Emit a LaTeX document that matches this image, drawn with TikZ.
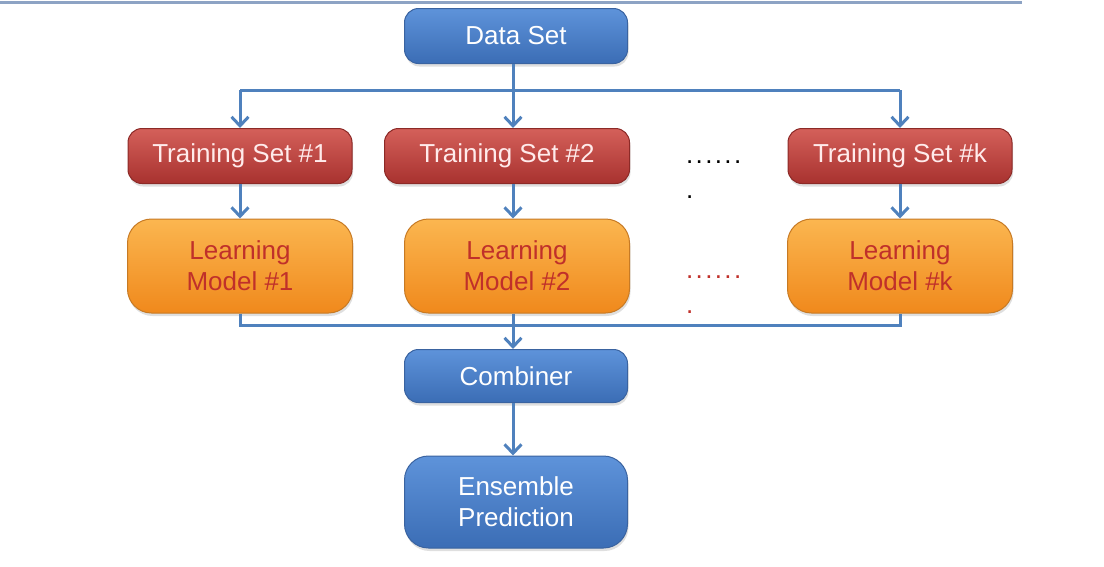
\documentclass[tikz,border=0pt]{standalone}
\usepackage{fontspec}
\setmainfont{Liberation Sans}
\newfontfamily\gapfont[LetterSpace=9]{Liberation Sans}
\usetikzlibrary{arrows.meta,shadows}
\definecolor{linkblue}{HTML}{4F81BD}
\definecolor{rulegrey}{HTML}{8DA3C4}
\definecolor{bluetop}{HTML}{5E93DA}
\definecolor{bluebot}{HTML}{3B6DB5}
\definecolor{blueedge}{HTML}{3A63A0}
\definecolor{redtop}{HTML}{D4605A}
\definecolor{redbot}{HTML}{A8322F}
\definecolor{rededge}{HTML}{8C2A27}
\definecolor{orangetop}{HTML}{FBB650}
\definecolor{orangebot}{HTML}{F0891C}
\definecolor{orangeedge}{HTML}{C77A24}
\definecolor{modeltext}{HTML}{C0302A}
\tikzset{
    flow diagram/.style = {x=1pt, y=-1pt,
                           >={Straight Barb[length=9pt,width=17pt]}},
    line/.style         = {line width=3pt, draw=linkblue},
    arrow/.style        = {line, ->},
    box/.style          = {draw, line width=1pt, rounded corners=14pt,
                           align=center, font=\fontsize{26}{31}\selectfont,
                           drop shadow={opacity=0.25, shadow xshift=1pt,
                                        shadow yshift=-3pt}},
    bluebox/.style      = {box, top color=bluetop, bottom color=bluebot,
                           draw=blueedge, text=white,
                           minimum width=223pt, minimum height=55pt},
    trainbox/.style     = {box, top color=redtop, bottom color=redbot,
                           draw=rededge, text=white!92!red,
                           minimum width=224pt, minimum height=55pt},
    modelbox/.style     = {box, rounded corners=24pt,
                           top color=orangetop, bottom color=orangebot,
                           draw=orangeedge, text=modeltext,
                           minimum width=225pt, minimum height=94pt},
    gap/.style          = {anchor=north west, align=left, inner sep=0pt,
                           font=\gapfont\fontsize{26}{35}\selectfont}
}

\begin{document}
\begin{tikzpicture}[flow diagram]
\useasboundingbox (0,0) rectangle (1104,566);
\coordinate (ruleL) at (0,2);
\coordinate (ruleR) at (1022,2);
\draw[line width=3pt, rulegrey] (ruleL) -- (ruleR);

\node[bluebox] (data) at (516,36) {Data Set};

\node[trainbox] (train1) at (240,156) {Training Set \#1};
\node[trainbox,minimum width=245pt] (train2) at (507,156) {Training Set \#2};
\node[trainbox] (traink) at (900,156) {Training Set \#k};
\node[gap] (gap1) at (686,161) {......\\.};

\node[modelbox] (model1) at (240,266) {Learning\\Model \#1};
\node[modelbox] (model2) at (517,266) {Learning\\Model \#2};
\node[modelbox] (modelk) at (900,266) {Learning\\Model \#k};
\node[gap,text=modeltext] (gap2) at (686,276) {......\\.};

\node[bluebox,minimum height=53pt] (combiner) at (516,376) {Combiner};
\node[bluebox,minimum height=92pt,rounded corners=24pt] (ensemble) at (516,502)
    {Ensemble\\Prediction};

% split to the training sets
\coordinate (split) at (513,90);
\draw[line] (data.south -| split) -- (split);
\draw[line] (train1 |- split) -- (traink |- split);
\draw[arrow] (train1 |- split) -- (train1.north);
\draw[arrow] (split) -- (split |- train2.north);
\draw[arrow] (traink |- split) -- (traink.north);

% training sets to models
\draw[arrow] (train1.south) -- (model1.north);
\draw[arrow] (split |- train2.south) -- (split |- model2.north);
\draw[arrow] (traink.south) -- (modelk.north);

% models to combiner
\coordinate (merge) at (513,325);
\draw[line] (model1.south) |- (merge) -| (modelk.south);
\draw[arrow] (merge |- model2.south) -- (merge |- combiner.north);
\draw[arrow] (merge |- combiner.south) -- (merge |- ensemble.north);
\end{tikzpicture}
\end{document}
